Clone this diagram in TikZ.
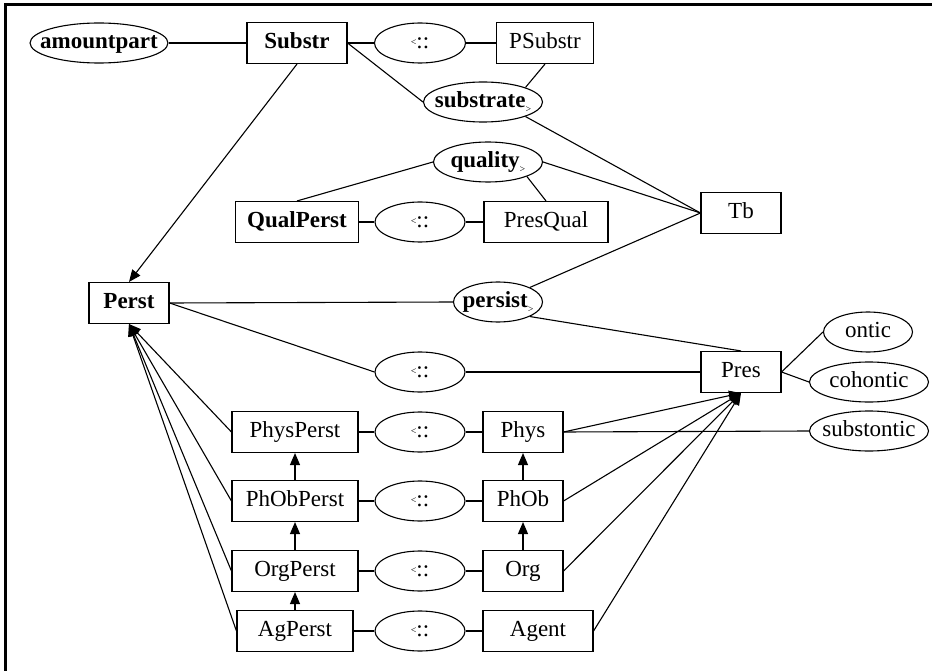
\documentclass[tikz,border=0pt]{standalone}
\usepackage{fontspec}
\setmainfont{Liberation Serif}
\usetikzlibrary{shapes.geometric,arrows.meta}
% text box of zero width, so an ellipse keeps the size it is given
\newcommand{\ztext}[1]{\makebox[0pt]{#1}}
% the "<::" relation label
\newcommand{\ltsym}{\ztext{\raisebox{3pt}{\fontsize{10}{10}\selectfont<}::}}
% small trailing ">" mark
\newcommand{\gtmark}{\raisebox{-5pt}{\fontsize{10}{10}\selectfont>}}
\begin{document}
\begin{tikzpicture}[x=1pt,y=-1pt,
  every node/.style={font=\fontsize{23}{27}\selectfont, text height=16pt, text depth=5pt, inner sep=0pt, line width=1.1pt},
  box/.style={draw, rectangle, minimum height=41pt},
  oval/.style={draw, ellipse, minimum height=40pt},
  link/.style={line width=1.1pt},
  isa/.style={line width=1.1pt, -{Triangle[length=12pt,width=10pt]}}]
\useasboundingbox (0,0) rectangle (932,671);
% frame
\draw[line width=3pt] (5,671) -- (5,5) -- (932,5);

% top block
\node[oval, minimum width=138pt] (amountpart) at (99,43) {\ztext{\textbf{amountpart}}};
\node[box, minimum width=100pt] (Substr) at (297,43) {\textbf{Substr}};
\node[oval, minimum width=91pt] (lt1) at (420,43) {\ltsym};
\node[box, minimum width=97pt] (PSubstr) at (545,43) {PSubstr};
\node[oval, minimum width=119pt] (substrate) at (483,102) {\ztext{\textbf{substrate}\gtmark}};
\node[oval, minimum width=109pt] (quality) at (488,162) {\ztext{\textbf{quality}\gtmark}};
\node[box, minimum width=123pt] (QualPerst) at (297,222) {\textbf{QualPerst}};
\node[oval, minimum width=90pt] (lt2) at (420,222) {\ltsym};
\node[box, minimum width=124pt] (PresQual) at (546,222) {PresQual};
\node[box, minimum width=80pt] (Tb) at (741,213) {Tb};

% middle block
\node[box, minimum width=80pt] (Perst) at (129,303) {\textbf{Perst}};
\node[oval, minimum width=89pt] (persist) at (498,302) {\ztext{\textbf{persist}\gtmark}};
\node[oval, minimum width=90pt] (lt3) at (420,372) {\ltsym};
\node[box, minimum width=80pt] (Pres) at (741,372) {Pres};
\node[oval, minimum width=89pt] (ontic) at (868,332) {\ztext{ontic}};
\node[oval, minimum width=119pt] (cohontic) at (869,382) {\ztext{cohontic}};
\node[oval, minimum width=119pt] (substontic) at (869,431) {\ztext{substontic}};

% lower block
\node[box, minimum width=126pt] (PhysPerst) at (295,432) {PhysPerst};
\node[oval, minimum width=90pt] (lt4) at (420,432) {\ltsym};
\node[box, minimum width=80pt] (Phys) at (523,432) {Phys};
\node[box, minimum width=126pt] (PhObPerst) at (295,501) {PhObPerst};
\node[oval, minimum width=90pt] (lt5) at (420,501) {\ltsym};
\node[box, minimum width=80pt] (PhOb) at (523,501) {PhOb};
\node[box, minimum width=126pt] (OrgPerst) at (295,571) {OrgPerst};
\node[oval, minimum width=90pt] (lt6) at (420,571) {\ltsym};
\node[box, minimum width=80pt] (Org) at (523,571) {Org};
\node[box, minimum width=116pt] (AgPerst) at (295,631) {AgPerst};
\node[oval, minimum width=90pt] (lt7) at (420,631) {\ltsym};
\node[box, minimum width=110pt] (Agent) at (538,631) {Agent};

% plain links
\draw[link] (amountpart.east) -- (Substr.west);
\draw[link] (Substr.east) -- (lt1.west);
\draw[link] (lt1.east) -- (PSubstr.west);
\draw[link] (Substr.east) -- (substrate.west);
\draw[link] (PSubstr.south) -- (substrate.north east);
\draw[link] (substrate.south east) -- (Tb.west);
\draw[link] (quality.west) -- (QualPerst.north);
\draw[link] (quality.south east) -- (PresQual.north);
\draw[link] (quality.east) -- (Tb.west);
\draw[link] (QualPerst.east) -- (lt2.west);
\draw[link] (lt2.east) -- (PresQual.west);
\draw[link] (Tb.west) -- (persist.north east);
\draw[link] (Perst.east) -- (persist.west);
\draw[link] (persist.south east) -- (Pres.north);
\draw[link] (Perst.east) -- (lt3.west);
\draw[link] (lt3.east) -- (Pres.west);
\draw[link] (Pres.east) -- (ontic.west);
\draw[link] (Pres.east) -- (cohontic.west);
\draw[link] (Phys.east) -- (substontic.west);
\draw[link] (PhysPerst.east) -- (lt4.west);
\draw[link] (lt4.east) -- (Phys.west);
\draw[link] (PhObPerst.east) -- (lt5.west);
\draw[link] (lt5.east) -- (PhOb.west);
\draw[link] (OrgPerst.east) -- (lt6.west);
\draw[link] (lt6.east) -- (Org.west);
\draw[link] (AgPerst.east) -- (lt7.west);
\draw[link] (lt7.east) -- (Agent.west);

% subsumption arrows
\draw[isa] (Substr.south) -- (Perst.north);
\draw[isa] (PhysPerst.west) -- (Perst.south);
\draw[isa] (PhObPerst.west) -- (Perst.south);
\draw[isa] (OrgPerst.west) -- (Perst.south);
\draw[isa] (AgPerst.west) -- (Perst.south);
\draw[isa] (PhObPerst.north) -- (PhysPerst.south);
\draw[isa] (OrgPerst.north) -- (PhObPerst.south);
\draw[isa] (AgPerst.north) -- (OrgPerst.south);
\draw[isa] (PhOb.north) -- (Phys.south);
\draw[isa] (Org.north) -- (PhOb.south);
\draw[isa] (Phys.east) -- (Pres.south);
\draw[isa] (PhOb.east) -- (Pres.south);
\draw[isa] (Org.east) -- (Pres.south);
\draw[isa] (Agent.east) -- (Pres.south);
\end{tikzpicture}
\end{document}
